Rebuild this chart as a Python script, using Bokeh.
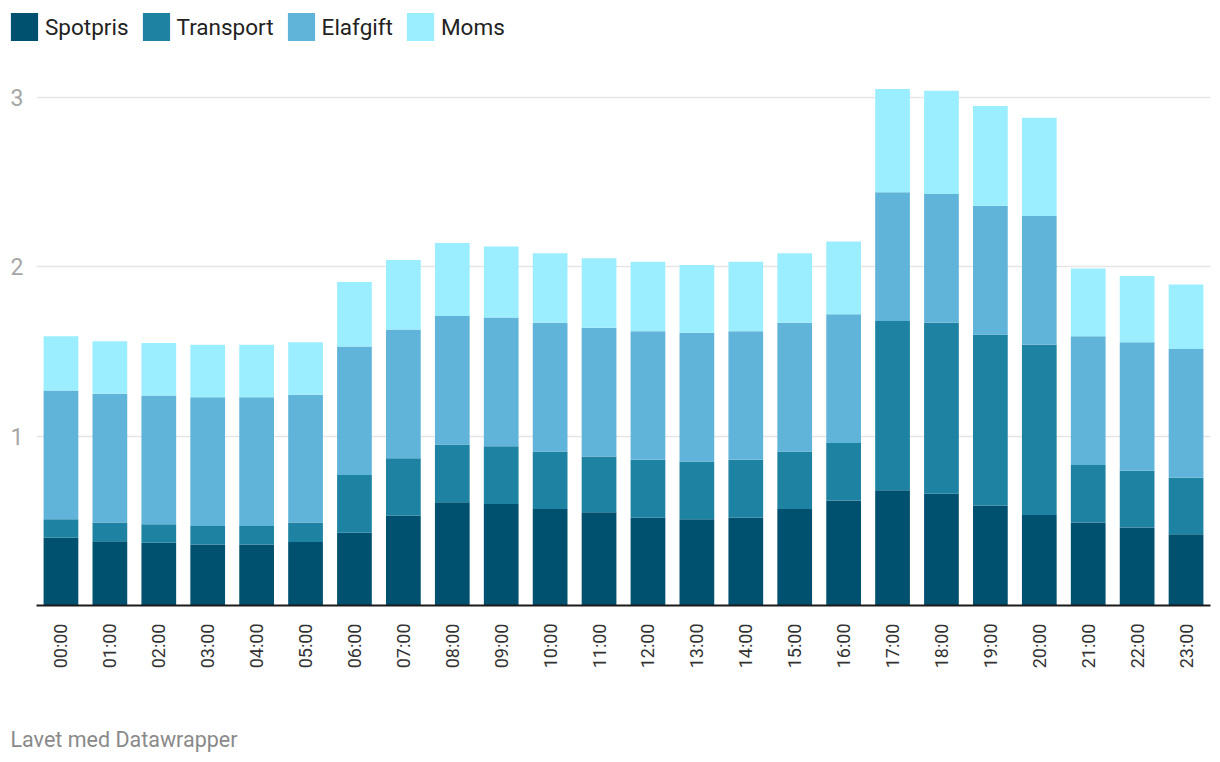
import math
from bokeh.plotting import figure
from bokeh.layouts import column
from bokeh.models import (ColumnDataSource, FactorRange, Range1d, Legend, LegendItem,
                          FixedTicker, Label)
from bokeh.embed import file_html
from bokeh.resources import INLINE

# ---- data ----
hours = ["00:00", "01:00", "02:00", "03:00", "04:00", "05:00", "06:00", "07:00",
         "08:00", "09:00", "10:00", "11:00", "12:00", "13:00", "14:00", "15:00",
         "16:00", "17:00", "18:00", "19:00", "20:00", "21:00", "22:00", "23:00"]
spotpris = [0.40, 0.38, 0.37, 0.36, 0.36, 0.375, 0.43, 0.53,
            0.61, 0.60, 0.57, 0.55, 0.52, 0.51, 0.52, 0.57,
            0.62, 0.68, 0.66, 0.59, 0.535, 0.49, 0.46, 0.42]
transport = [0.11, 0.11, 0.11, 0.11, 0.11, 0.115, 0.34, 0.34,
             0.34, 0.34, 0.34, 0.33, 0.34, 0.34, 0.34, 0.34,
             0.34, 1.00, 1.01, 1.01, 1.005, 0.34, 0.335, 0.335]
elafgift = [0.76, 0.76, 0.76, 0.76, 0.76, 0.755, 0.76, 0.76,
            0.76, 0.76, 0.76, 0.76, 0.76, 0.76, 0.76, 0.76,
            0.76, 0.76, 0.76, 0.76, 0.76, 0.76, 0.76, 0.76]
moms = [0.32, 0.31, 0.31, 0.31, 0.31, 0.31, 0.38, 0.41,
        0.43, 0.42, 0.41, 0.41, 0.41, 0.40, 0.41, 0.41,
        0.43, 0.61, 0.61, 0.59, 0.58, 0.40, 0.39, 0.38]
series = ["Spotpris", "Transport", "Elafgift", "Moms"]
colors = ["#00506f", "#1e82a2", "#60b4d9", "#9beeff"]
y_ticks = [1, 2, 3]
footer_text = "Lavet med Datawrapper"

source = ColumnDataSource(dict(hours=hours, Spotpris=spotpris, Transport=transport,
                               Elafgift=elafgift, Moms=moms))

FONT = "Roboto"
W = 1212


def strip(height):
    f = figure(width=W, height=height, output_backend="svg", toolbar_location=None,
               x_axis_type=None, y_axis_type=None,
               x_range=Range1d(0, 1), y_range=Range1d(0, 1),
               min_border_left=0, min_border_right=0, min_border_top=0, min_border_bottom=0)
    f.frame_align = False
    f.outline_line_color = None
    f.xgrid.visible = False
    f.ygrid.visible = False
    return f


# ---------- legend strip ----------
leg_fig = strip(56)
swatches = [leg_fig.vbar(x=[0], top=[0], width=0, fill_color=c, line_color=None)
            for c in colors]
legend = Legend(items=[LegendItem(label=s, renderers=[r]) for s, r in zip(series, swatches)],
                orientation="horizontal", location=(7, 12),
                glyph_width=34, glyph_height=35, label_standoff=4, spacing=10,
                padding=0, margin=0, border_line_color=None, background_fill_alpha=0,
                label_text_font=FONT, label_text_font_size="22.5px",
                label_text_color="#222222")
leg_fig.add_layout(legend, "center")

# ---------- main chart ----------
p = figure(x_range=FactorRange(*hours, range_padding=0), y_range=Range1d(0, 3.1),
           width=W, height=644, output_backend="svg", toolbar_location=None,
           min_border_left=36, min_border_right=2, min_border_top=24, min_border_bottom=95)
p.frame_align = False
p.outline_line_color = None

p.vbar_stack(series, x="hours", width=0.71, source=source,
             fill_color=colors, line_color=None)

p.xgrid.grid_line_color = None
p.ygrid.grid_line_color = "#e5e5e5"
p.ygrid.grid_line_width = 1.6

xa = p.xaxis[0]
xa.major_label_orientation = math.pi / 2
xa.major_tick_line_color = None
xa.minor_tick_line_color = None
xa.major_tick_out = 0
xa.major_tick_in = 0
xa.axis_line_color = "#1a1a1a"
xa.axis_line_width = 2
xa.major_label_standoff = 18
xa.major_label_text_font = FONT
xa.major_label_text_font_size = "18px"
xa.major_label_text_color = "#333333"

ya = p.yaxis[0]
ya.ticker = FixedTicker(ticks=y_ticks)
ya.axis_line_color = None
ya.major_tick_line_color = None
ya.minor_tick_line_color = None
ya.major_tick_out = 0
ya.major_tick_in = 0
ya.major_label_standoff = 13
ya.major_label_text_font = FONT
ya.major_label_text_font_size = "23px"
ya.major_label_text_color = "#a6a6a6"

# ---------- footer strip ----------
foot_fig = strip(60)
foot_fig.add_layout(Label(x=10, y=21, x_units="screen", y_units="screen",
                          text=footer_text, text_font=FONT, text_font_size="21.5px",
                          text_color="#8a8a8a", text_baseline="middle", text_align="left"))

layout = column(leg_fig, p, foot_fig, spacing=0)
open("out.html", "w").write(file_html(layout, INLINE))
